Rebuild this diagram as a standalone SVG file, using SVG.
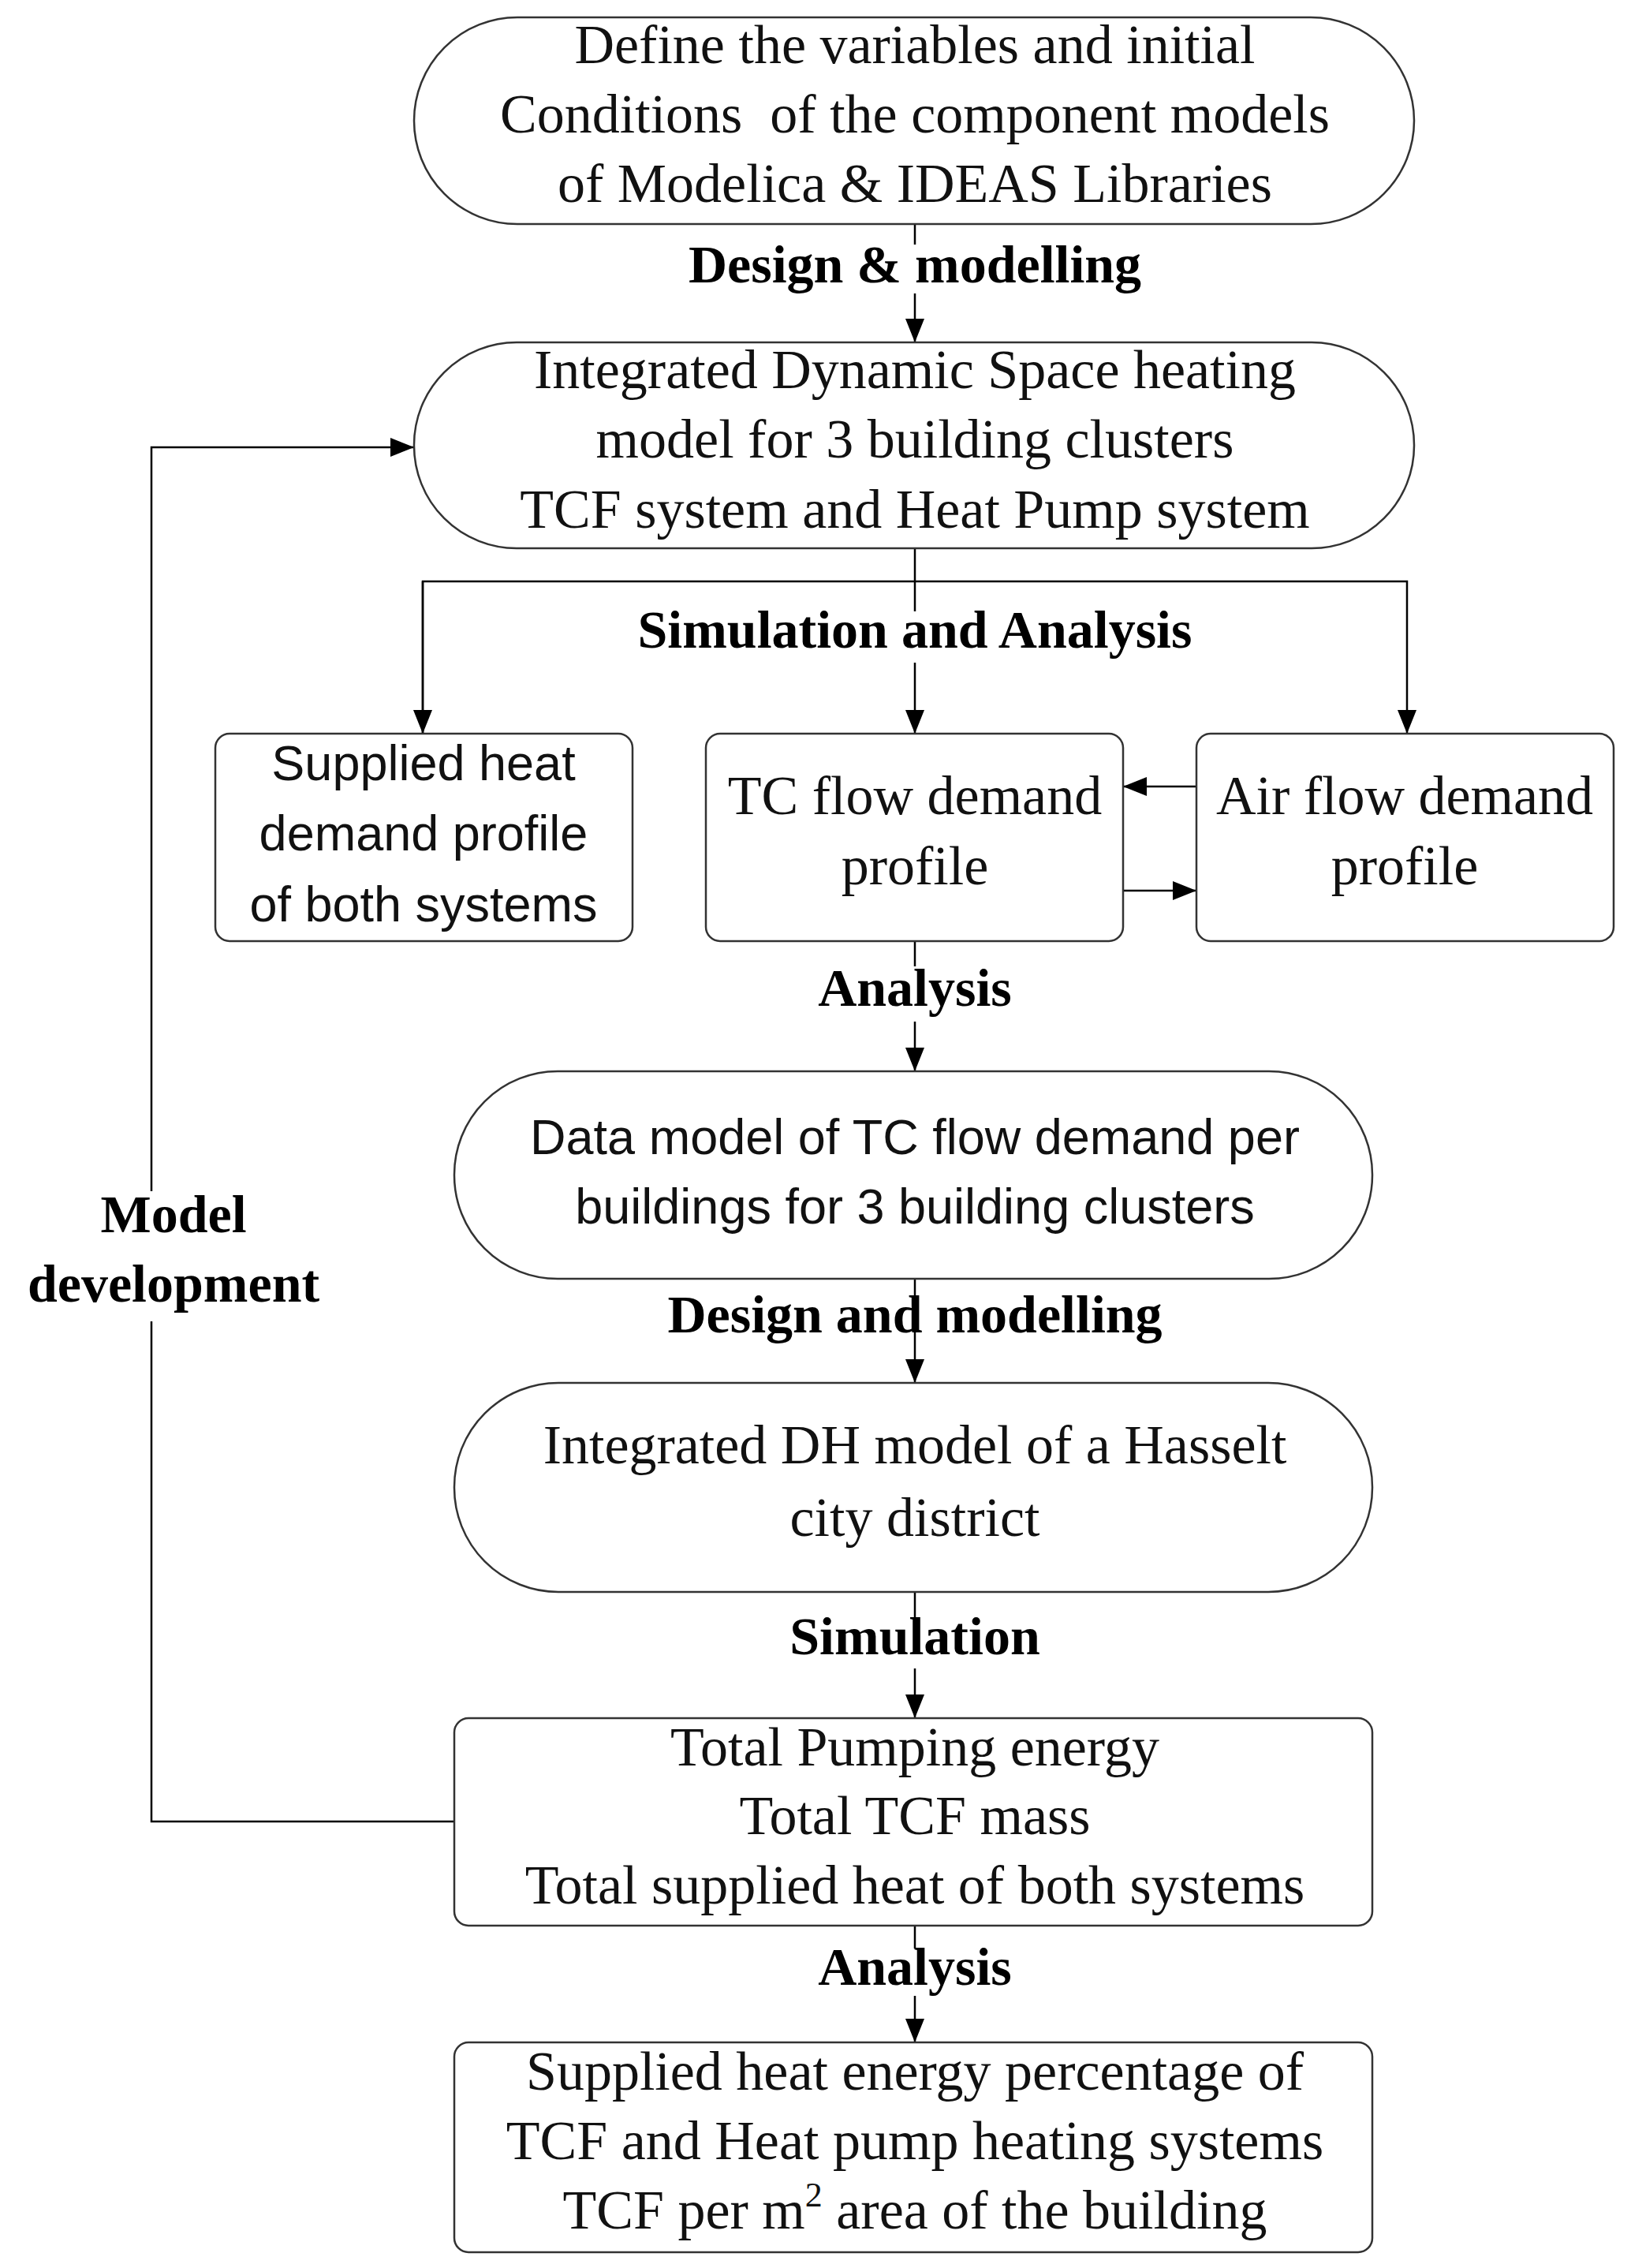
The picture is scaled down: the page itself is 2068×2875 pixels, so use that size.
<svg xmlns="http://www.w3.org/2000/svg" width="2068" height="2875" viewBox="0 0 2068 2875">
<style>
.n{fill:#fff;stroke:#333;stroke-width:2.5}
.s{font-family:"Liberation Serif",serif;font-size:70px;fill:#111;text-anchor:middle;dominant-baseline:middle}
.a{font-family:"Liberation Sans",sans-serif;font-size:63px;fill:#111;text-anchor:middle;dominant-baseline:middle}
.b{font-family:"Liberation Serif",serif;font-size:68px;font-weight:bold;fill:#000;text-anchor:middle;dominant-baseline:middle}
.c{fill:none;stroke:#000;stroke-width:2.5}
</style>
<defs><marker id="ar" markerWidth="12" markerHeight="10" refX="12" refY="5" orient="auto" markerUnits="userSpaceOnUse" viewBox="0 0 12 10"><path d="M0,0 L12,5 L0,10 z" fill="#000"/></marker>
<marker id="ar2" markerWidth="30" markerHeight="24" refX="30" refY="12" orient="auto" markerUnits="userSpaceOnUse" viewBox="0 0 30 24"><path d="M0,0 L30,12 L0,24 z" fill="#000"/></marker></defs>
<rect width="2068" height="2875" fill="#fff"/>
<g id="connectors">
<path class="c" d="M1160 284V310M1160 372V434" marker-end="url(#ar2)"/>
<path class="c" d="M1160 695V775"/>
<path class="c" d="M536 930V737H1784V930" marker-end="url(#ar2)"/>
<path class="c" d="M536 737V930" marker-end="url(#ar2)"/>
<path class="c" d="M1160 840V930" marker-end="url(#ar2)"/>
<path class="c" d="M1517 997H1424" marker-end="url(#ar2)"/>
<path class="c" d="M1424 1129H1517" marker-end="url(#ar2)"/>
<path class="c" d="M1160 1193V1225M1160 1295V1358" marker-end="url(#ar2)"/>
<path class="c" d="M1160 1621V1753" marker-end="url(#ar2)"/>
<path class="c" d="M1160 2018V2050M1160 2115V2178" marker-end="url(#ar2)"/>
<path class="c" d="M1160 2441V2470M1160 2530V2589" marker-end="url(#ar2)"/>
<path class="c" d="M576 2309H192V1675"/>
<path class="c" d="M192 1510V567H525" marker-end="url(#ar2)"/>
</g>
<g id="n1"><rect class="n" x="525" y="22" width="1268" height="262" rx="131"/>
<text class="s" x="1160" y="64">Define the variables and initial</text>
<text class="s" x="1160" y="152" xml:space="preserve">Conditions  of the component models</text>
<text class="s" x="1160" y="240">of Modelica &amp; IDEAS Libraries</text></g>
<text class="b" x="1160" y="342">Design &amp; modelling</text>
<g id="n2"><rect class="n" x="525" y="434" width="1268" height="261" rx="130"/>
<text class="s" x="1160" y="476">Integrated Dynamic Space heating</text>
<text class="s" x="1160" y="564">model for 3 building clusters</text>
<text class="s" x="1160" y="653">TCF system and Heat Pump system</text></g>
<text class="b" x="1160" y="805">Simulation and Analysis</text>
<g id="n3"><rect class="n" x="273" y="930" width="529" height="263" rx="18"/>
<text class="a" x="537" y="972">Supplied heat</text>
<text class="a" x="537" y="1061">demand profile</text>
<text class="a" x="537" y="1151">of both systems</text></g>
<g id="n4"><rect class="n" x="895" y="930" width="529" height="263" rx="18"/>
<text class="s" x="1160" y="1016">TC flow demand</text>
<text class="s" x="1160" y="1105">profile</text></g>
<g id="n5"><rect class="n" x="1517" y="930" width="529" height="263" rx="18"/>
<text class="s" x="1781" y="1016">Air flow demand</text>
<text class="s" x="1781" y="1105">profile</text></g>
<text class="b" x="1160" y="1259">Analysis</text>
<g id="n6"><rect class="n" x="576" y="1358" width="1164" height="263" rx="131"/>
<text class="a" x="1160" y="1446">Data model of TC flow demand per</text>
<text class="a" x="1160" y="1534">buildings for 3 building clusters</text></g>
<text class="b" x="1160" y="1673">Design and modelling</text>
<g id="n7"><rect class="n" x="576" y="1753" width="1164" height="265" rx="132"/>
<text class="s" x="1160" y="1839">Integrated DH model of a Hasselt</text>
<text class="s" x="1160" y="1931">city district</text></g>
<text class="b" x="1160" y="2081">Simulation</text>
<g id="n8"><rect class="n" x="576" y="2178" width="1164" height="263" rx="18"/>
<text class="s" x="1160" y="2222">Total Pumping energy</text>
<text class="s" x="1160" y="2309">Total TCF mass</text>
<text class="s" x="1160" y="2397">Total supplied heat of both systems</text></g>
<text class="b" x="1160" y="2500">Analysis</text>
<g id="n9"><rect class="n" x="576" y="2589" width="1164" height="266" rx="18"/>
<text class="s" x="1160" y="2633">Supplied heat energy percentage of</text>
<text class="s" x="1160" y="2721">TCF and Heat pump heating systems</text>
<text class="s" x="1160" y="2809">TCF per m<tspan font-size="44" dy="-22">2</tspan><tspan dy="22"> area of the building</tspan></text></g>
<text class="b" x="220" y="1546">Model</text>
<text class="b" x="220" y="1634">development</text>
</svg>
